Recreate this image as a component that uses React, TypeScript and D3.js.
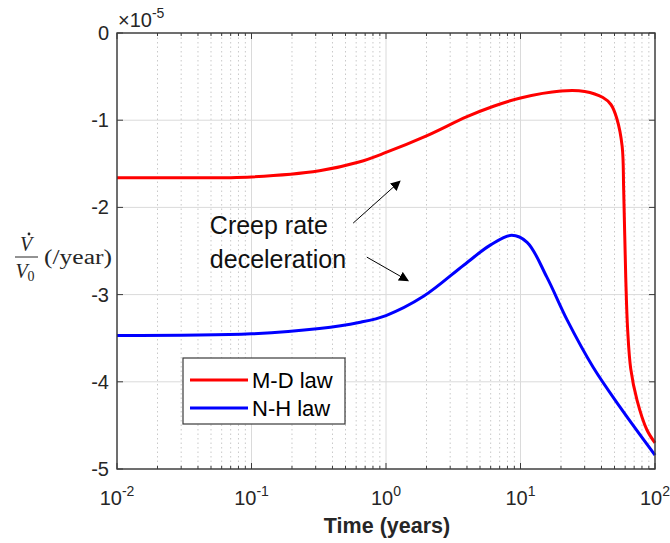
import React from 'react';
import * as d3 from 'd3';

// M-D law curve (time in years, rate in units of 1e-5 /year)
const mdTime = [0.01, 0.03, 0.1, 0.32, 0.63, 1, 2, 4, 6.3, 10, 20, 30, 41, 47, 52, 57, 58.5, 60.6, 62.6, 66, 73.5, 87, 100];
const mdRate = [-1.66, -1.66, -1.65, -1.58, -1.48, -1.37, -1.18, -0.96, -0.84, -0.745, -0.665, -0.67, -0.74, -0.82, -0.98, -1.3, -1.8, -2.8, -3.4, -3.85, -4.21, -4.55, -4.7];

// N-H law curve
const nhTime = [0.01, 0.1, 0.32, 0.63, 1, 1.9, 3.8, 6.0, 8.6, 11.2, 15.7, 22.2, 34.6, 55, 100];
const nhRate = [-3.47, -3.45, -3.39, -3.32, -3.24, -3.02, -2.66, -2.43, -2.32, -2.4, -2.8, -3.29, -3.83, -4.29, -4.84];

const xTicks = [0.01, 0.1, 1, 10, 100];
const xTickExp = ['-2', '-1', '0', '1', '2'];
const yTicks = [0, -1, -2, -3, -4, -5];
const yTickLabels = ['0', '-1', '-2', '-3', '-4', '-5'];

const seriesNames = ['M-D law', 'N-H law'];
const seriesColors = ['#ff0000', '#0000ff'];

// annotation anchors in data units
const noteLines = ['Creep rate', 'deceleration'];
const noteTextPos: [number, number][] = [[0.049, -2.31], [0.049, -2.69]];
const arrowFrom: [number, number][] = [[0.57, -2.18], [0.72, -2.57]];
const arrowTo: [number, number][] = [[1.27, -1.7], [1.46, -2.84]];

const W = 670;
const H = 543;
const margin = { top: 33, right: 15, bottom: 74, left: 117 };

const App: React.FC = () => {
  const x = d3.scaleLog().domain([0.01, 100]).range([margin.left, W - margin.right]);
  const y = d3.scaleLinear().domain([-5, 0]).range([H - margin.bottom, margin.top]);
  const [x0, x1] = x.range();
  const [y0, y1] = [y(0), y(-5)];

  const minor: number[] = [];
  for (let d = -2; d < 2; d++) {
    for (let k = 2; k <= 9; k++) minor.push(k * Math.pow(10, d));
  }

  const line = d3
    .line<[number, number]>()
    .x((d) => x(d[0]))
    .y((d) => y(d[1]))
    .curve(d3.curveCatmullRom.alpha(0.5));

  const md = mdTime.map((t, i) => [t, mdRate[i]] as [number, number]);
  const nh = nhTime.map((t, i) => [t, nhRate[i]] as [number, number]);

  const axisColor = '#3a3a3a';
  const tickFont = '"Liberation Sans", Arial, sans-serif';

  return (
    <svg width={W} height={H} style={{ position: 'absolute', left: 0, top: 0, background: '#fff' }}>
      <defs>
        <marker id="arrowhead" viewBox="0 0 10 10" refX="9" refY="5" markerWidth="10" markerHeight="10" orient="auto" markerUnits="userSpaceOnUse">
          <path d="M0,0 L10,5 L0,10 z" fill="#000" />
        </marker>
      </defs>
      <rect x={x0} y={y0} width={x1 - x0} height={y1 - y0} fill="#fff" />

      {/* minor grid */}
      {minor.map((t) => (
        <line key={'mg' + t} x1={x(t)} x2={x(t)} y1={y0} y2={y1} stroke="#c9c9c9" strokeWidth={1} strokeDasharray="1.5,3" />
      ))}
      {/* major grid */}
      {xTicks.map((t) => (
        <line key={'xg' + t} x1={x(t)} x2={x(t)} y1={y0} y2={y1} stroke="#dadada" strokeWidth={1} />
      ))}
      {yTicks.map((v) => (
        <line key={'yg' + v} x1={x0} x2={x1} y1={y(v)} y2={y(v)} stroke="#dadada" strokeWidth={1} />
      ))}

      {/* curves */}
      <path d={line(md) || ''} fill="none" stroke={seriesColors[0]} strokeWidth={3} />
      <path d={line(nh) || ''} fill="none" stroke={seriesColors[1]} strokeWidth={3} />

      {/* axis box & ticks */}
      <rect x={x0} y={y0} width={x1 - x0} height={y1 - y0} fill="none" stroke={axisColor} strokeWidth={1.4} />
      {xTicks.map((t) => (
        <g key={'xt' + t}>
          <line x1={x(t)} x2={x(t)} y1={y1} y2={y1 - 6} stroke={axisColor} />
          <line x1={x(t)} x2={x(t)} y1={y0} y2={y0 + 6} stroke={axisColor} />
        </g>
      ))}
      {minor.map((t) => (
        <g key={'mt' + t}>
          <line x1={x(t)} x2={x(t)} y1={y1} y2={y1 - 3} stroke={axisColor} />
          <line x1={x(t)} x2={x(t)} y1={y0} y2={y0 + 3} stroke={axisColor} />
        </g>
      ))}
      {yTicks.map((v) => (
        <g key={'yt' + v}>
          <line x1={x0} x2={x0 + 6} y1={y(v)} y2={y(v)} stroke={axisColor} />
          <line x1={x1} x2={x1 - 6} y1={y(v)} y2={y(v)} stroke={axisColor} />
        </g>
      ))}

      {/* y tick labels */}
      {yTicks.map((v, i) => (
        <text key={'yl' + v} x={x0 - 8} y={y(v) + 7} textAnchor="end" fontFamily={tickFont} fontSize={20} fill="#262626">
          {yTickLabels[i]}
        </text>
      ))}
      <text x={x0 + 1} y={27} fontFamily={tickFont} fontSize={20} fill="#262626">
        ×10<tspan fontSize={14} dy={-9}>-5</tspan>
      </text>

      {/* x tick labels */}
      {xTicks.map((t, i) => (
        <text key={'xl' + t} x={x(t)} y={y1 + 36} textAnchor="middle" fontFamily={tickFont} fontSize={20} fill="#262626">
          10<tspan fontSize={14} dy={-9}>{xTickExp[i]}</tspan>
        </text>
      ))}
      <text x={(x0 + x1) / 2 + 1} y={H - 10} textAnchor="middle" fontFamily={tickFont} fontSize={21.5} fontWeight="bold" fill="#262626">
        Time (years)
      </text>

      {/* y label: Vdot / V0 (/year) */}
      <g fontFamily='"Liberation Serif", "Times New Roman", serif' fill="#262626">
        <text x={26} y={251} textAnchor="middle" fontStyle="italic" fontSize={20}>V</text>
        <circle cx={29} cy={234} r={1.4} fill="#262626" />
        <line x1={15} x2={38} y1={257} y2={257} stroke="#262626" strokeWidth={1} />
        <text x={25} y={278} textAnchor="middle" fontStyle="italic" fontSize={20}>
          V<tspan fontStyle="normal" fontSize={14} dy={3}>0</tspan>
        </text>
        <text x={44} y={264} fontSize={20} textLength={68} lengthAdjust="spacingAndGlyphs">(/year)</text>
      </g>

      {/* legend */}
      <g>
        <rect x={183} y={358} width={162} height={66} fill="#fff" stroke={axisColor} strokeWidth={1.2} />
        {seriesNames.map((name, i) => (
          <g key={name}>
            <line x1={190} x2={248} y1={380 + i * 28} y2={380 + i * 28} stroke={seriesColors[i]} strokeWidth={3} />
            <text x={252} y={388 + i * 28} fontFamily={tickFont} fontSize={22} fill="#000">
              {name}
            </text>
          </g>
        ))}
      </g>

      {/* annotation */}
      {noteLines.map((s, i) => (
        <text key={s} x={x(noteTextPos[i][0])} y={y(noteTextPos[i][1])} fontFamily='"Liberation Sans", Carlito, sans-serif' fontSize={25} fill="#111">
          {s}
        </text>
      ))}
      {arrowFrom.map((p, i) => (
        <line
          key={'ar' + i}
          x1={x(p[0])}
          y1={y(p[1])}
          x2={x(arrowTo[i][0])}
          y2={y(arrowTo[i][1])}
          stroke="#000"
          strokeWidth={1}
          markerEnd="url(#arrowhead)"
        />
      ))}
    </svg>
  );
};

export default App;
